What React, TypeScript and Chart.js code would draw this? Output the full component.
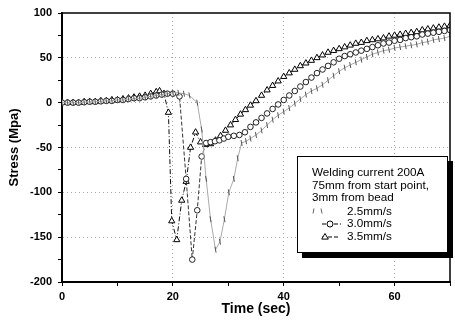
import React, { useEffect, useRef } from 'react';
import { Chart, registerables } from 'chart.js';

Chart.register(...registerables);

// ---- data ----
const xTickLabels = [0, 20, 40, 60];
const yTickLabels = [100, 50, 0, -50, -100, -150, -200];

const legendHeader = ['Welding current 200A', '75mm from start point,', '3mm from bead'];
const seriesLabels = ['2.5mm/s', '3.0mm/s', '3.5mm/s'];

// 2.5 mm/s
const time25 = [0, 1, 2, 3, 4, 5, 6, 7, 8, 9, 10, 11, 12, 13, 14, 15, 16, 17, 18, 19, 20, 21, 22, 23, 24.4, 25.2, 26, 26.8, 27.7, 28.5, 29.3, 30.1, 31, 31.7, 32.4, 33.2, 34, 35, 36, 37, 38, 39, 40, 41, 42, 43, 44, 45, 46, 47, 48, 49, 50, 51, 52, 53, 54, 55, 56, 57, 58, 59, 60, 61, 62, 63, 64, 65, 66, 67, 68, 69, 70];
const stress25 = [0, 0, 0, 0, 0.5, 1, 1, 1.5, 2, 2, 3, 3, 4, 4.5, 5, 6, 7, 8, 9, 10, 11, 11, 10, 8, 0, -30, -85, -130, -164, -155, -130, -100, -85, -62, -45, -43, -40, -36, -31, -25, -19, -14, -10, -6, -1, 4, 9, 13, 16, 20, 25, 30, 35, 39, 42, 45, 48, 51, 54, 56, 58, 59, 61, 62, 63, 64, 65, 67, 68, 70, 71, 72, 74];

// 3.0 mm/s
const time30 = [0, 1, 2, 3, 4, 5, 6, 7, 8, 9, 10, 11, 12, 13, 14, 15, 16, 17, 18, 19, 20, 21.2, 22.4, 23.5, 24.4, 25.2, 26, 26.8, 27.6, 28.4, 29.2, 30, 31, 32, 33, 34, 35, 36, 37, 38, 39, 40, 41, 42, 43, 44, 45, 46, 47, 48, 49, 50, 51, 52, 53, 54, 55, 56, 57, 58, 59, 60, 61, 62, 63, 64, 65, 66, 67, 68, 69, 70];
const stress30 = [0, 0, 0, 0, 0.5, 1, 1, 1.5, 2, 2, 3, 3, 4, 5, 5, 6, 7, 8, 9, 10, 10, 7, -85, -175, -120, -60, -45, -44, -43, -42, -40, -38, -37, -36, -33, -27, -22, -17, -12, -7, -2, 3, 8, 13, 18, 23, 28, 33, 37, 41, 45, 49, 52, 54, 56, 58, 60, 62, 64, 66, 67, 69, 70, 72, 73, 74, 76, 77, 78, 79, 80, 81];

// 3.5 mm/s
const time35 = [0, 1, 2, 3, 4, 5, 6, 7, 8, 9, 10, 11, 12, 13, 14, 15, 16, 17, 17.6, 18.4, 19.2, 19.8, 20.7, 21.6, 22.4, 23.2, 24.1, 25, 25.9, 26.8, 27.7, 28.6, 29.5, 30.4, 31.3, 32.2, 33.1, 34, 35, 36, 37, 38, 39, 40, 41, 42, 43, 44, 45, 46, 47, 48, 49, 50, 51, 52, 53, 54, 55, 56, 57, 58, 59, 60, 61, 62, 63, 64, 65, 66, 67, 68, 69, 70];
const stress35 = [0, 0, 0, 0, 1, 1, 1, 2, 2, 3, 3, 4, 5, 6, 7, 8, 10, 12, 13, 10, -11, -132, -153, -109, -88, -50, -33, -44, -47, -46, -42, -37, -31, -25, -19, -13, -8, -3, 2, 8, 14, 19, 24, 29, 33, 37, 41, 44, 47, 50, 53, 56, 58, 60, 62, 64, 66, 67, 69, 70, 71, 72, 74, 75, 76, 77, 78, 79, 81, 82, 83, 84, 85, 86];

const pts = (xs: number[], ys: number[]) => xs.map((x, i) => ({ x, y: ys[i] }));

const FONT = '"Liberation Sans", Arial, sans-serif';

function drawTri(ctx: CanvasRenderingContext2D, x: number, y: number, r: number) {
  ctx.beginPath();
  ctx.moveTo(x, y - r);
  ctx.lineTo(x + r * 0.95, y + r * 0.6);
  ctx.lineTo(x - r * 0.95, y + r * 0.6);
  ctx.closePath();
  ctx.fillStyle = '#fff';
  ctx.fill();
  ctx.stroke();
}

const framePlugin = {
  id: 'frameAndLegend',
  afterDraw(chart: any) {
    const { ctx, chartArea } = chart;
    const { left, right, top, bottom } = chartArea;
    ctx.save();
    ctx.strokeStyle = '#000';
    ctx.lineWidth = 1.5;
    ctx.beginPath();
    ctx.moveTo(left, top);
    ctx.lineTo(right, top);
    ctx.lineTo(right, bottom);
    ctx.stroke();

    const bx = 297, by = 156, bw = 150, bh = 96;
    ctx.fillStyle = '#000';
    ctx.fillRect(bx + 5, by + 5, bw + 1, bh + 1);
    ctx.fillStyle = '#fff';
    ctx.fillRect(bx, by, bw, bh);
    ctx.lineWidth = 1;
    ctx.strokeStyle = '#000';
    ctx.strokeRect(bx + 0.5, by + 0.5, bw, bh);

    ctx.fillStyle = '#000';
    ctx.font = `11.7px ${FONT}`;
    ctx.textBaseline = 'middle';
    ctx.textAlign = 'left';
    const hy = [173, 185.5, 198];
    legendHeader.forEach((t, i) => ctx.fillText(t, 312, hy[i]));
    const sy = [211.5, 224, 237];
    seriesLabels.forEach((t, i) => ctx.fillText(t, 347, sy[i]));

    ctx.strokeStyle = '#666';
    ctx.lineWidth = 1;
    ctx.beginPath();
    ctx.moveTo(314, sy[0] - 3);
    ctx.lineTo(313, sy[0] + 2);
    ctx.moveTo(321, sy[0] - 3);
    ctx.lineTo(322, sy[0] + 2);
    ctx.stroke();

    ctx.strokeStyle = '#000';
    ctx.setLineDash([4, 2]);
    ctx.beginPath();
    ctx.moveTo(322, sy[1]);
    ctx.lineTo(341, sy[1]);
    ctx.stroke();
    ctx.setLineDash([]);
    ctx.beginPath();
    ctx.arc(330, sy[1], 3, 0, Math.PI * 2);
    ctx.fillStyle = '#fff';
    ctx.fill();
    ctx.stroke();

    ctx.setLineDash([4, 2]);
    ctx.beginPath();
    ctx.moveTo(322, sy[2]);
    ctx.lineTo(339, sy[2]);
    ctx.stroke();
    ctx.setLineDash([]);
    drawTri(ctx, 325, sy[2], 3.5);
    ctx.restore();
  },
};

export default function App() {
  const ref = useRef<HTMLCanvasElement | null>(null);

  useEffect(() => {
    if (!ref.current) return;
    const tickFont = { family: FONT, size: 11, weight: 'bold' as const };
    const chart = new Chart(ref.current, {
      type: 'line',
      data: {
        datasets: [
          {
            label: seriesLabels[0],
            data: pts(time25, stress25),
            borderColor: '#aaa',
            borderWidth: 1,
            pointStyle: 'line',
            rotation: 80,
            pointRadius: 3,
            pointBorderColor: '#555',
            pointBorderWidth: 1,
            pointBackgroundColor: '#555',
            tension: 0,
          },
          {
            label: seriesLabels[1],
            data: pts(time30, stress30),
            borderColor: '#333',
            borderWidth: 1,
            borderDash: [4, 2],
            pointStyle: 'circle',
            pointRadius: 2.8,
            pointBorderColor: '#222',
            pointBackgroundColor: '#fff',
            pointBorderWidth: 1,
            tension: 0,
          },
          {
            label: seriesLabels[2],
            data: pts(time35, stress35),
            borderColor: '#111',
            borderWidth: 1,
            borderDash: [5, 2, 1, 2],
            pointStyle: 'triangle',
            pointRadius: 3.6,
            pointBorderColor: '#000',
            pointBackgroundColor: '#fff',
            pointBorderWidth: 1,
            tension: 0,
          },
        ],
      },
      options: {
        responsive: false,
        animation: false,
        layout: { padding: { top: 13, right: 2, left: 0, bottom: 0 } },
        plugins: {
          legend: { display: false },
          tooltip: { enabled: false },
        },
        scales: {
          x: {
            type: 'linear',
            min: 0,
            max: 70,
            afterFit: (s: any) => { s.height = 42; },
            ticks: {
              stepSize: 10,
              autoSkip: false,
              maxRotation: 0,
              padding: 4,
              color: '#000',
              font: tickFont,
              callback: (v: any) => (xTickLabels.includes(Number(v)) ? String(v) : ''),
            },
            grid: {
              color: (c: any) => {
                const v = c.tick ? c.tick.value : 0;
                return xTickLabels.includes(v) && v > 0 ? '#aaa' : 'rgba(0,0,0,0)';
              },
              tickColor: '#000',
              tickLength: 4,
              lineWidth: 1,
            },
            border: { color: '#000', width: 2, dash: [1, 3] },
            title: {
              display: true,
              text: 'Time (sec)',
              color: '#000',
              font: { family: FONT, size: 14, weight: 'bold' },
              padding: { top: 0, bottom: 6 },
            },
          },
          y: {
            type: 'linear',
            min: -200,
            max: 100,
            afterFit: (s: any) => { s.width = 62; },
            ticks: {
              stepSize: 25,
              autoSkip: false,
              padding: 6,
              color: '#000',
              font: tickFont,
              callback: (v: any) => (yTickLabels.includes(Number(v)) ? String(v) : ''),
            },
            grid: {
              color: (c: any) => {
                const v = c.tick ? c.tick.value : 0;
                return yTickLabels.includes(v) && v < 100 && v > -200 ? '#aaa' : 'rgba(0,0,0,0)';
              },
              tickColor: '#000',
              tickLength: 4,
              lineWidth: 1,
            },
            border: { color: '#000', width: 2, dash: [1, 3] },
            title: {
              display: true,
              text: 'Stress (Mpa)',
              color: '#000',
              font: { family: FONT, size: 13, weight: 'bold' },
              padding: { top: 7, bottom: 0 },
            },
          },
        },
      },
      plugins: [framePlugin],
    });
    return () => chart.destroy();
  }, []);

  return (
    <div style={{ position: 'absolute', left: 0, top: 0, width: 455, height: 324, background: '#fff' }}>
      <canvas ref={ref} width={455} height={324} style={{ display: 'block' }} />
    </div>
  );
}
